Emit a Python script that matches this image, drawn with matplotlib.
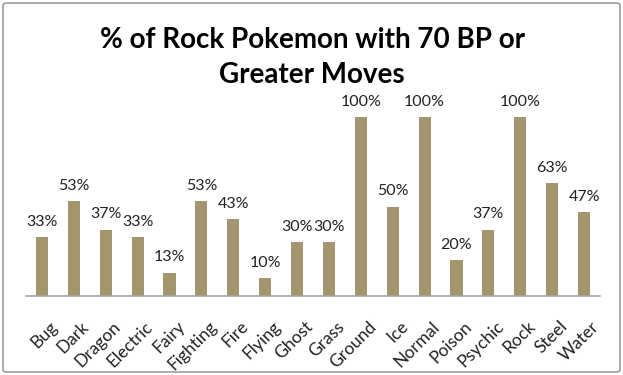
import matplotlib
matplotlib.use("Agg")
import matplotlib.pyplot as plt
from matplotlib.patches import FancyBboxPatch
from matplotlib.transforms import ScaledTranslation

categories = ["Bug", "Dark", "Dragon", "Electric", "Fairy", "Fighting", "Fire", "Flying",
              "Ghost", "Grass", "Ground", "Ice", "Normal", "Poison", "Psychic", "Rock",
              "Steel", "Water"]
values = [33, 53, 37, 33, 13, 53, 43, 10, 30, 30, 100, 50, 100, 20, 37, 100, 63, 47]
title_lines = ["% of Rock Pokemon with 70 BP or", "Greater Moves"]

plt.rcParams['font.family'] = ['Lato', 'DejaVu Sans']

fig = plt.figure(figsize=(6.23, 3.75), dpi=100)
ax = fig.add_axes([26/623, (375-296)/375, (600-26)/623, (296-117)/375])

x = list(range(len(categories)))
bars = ax.bar(x, values, width=0.38, color="#A3966A", zorder=2)
ax.set_xlim(-0.5, len(categories) - 0.5)
ax.set_ylim(0, 100)

for xi, v in zip(x, values):
    ax.annotate(f"{v}%", (xi, v), xytext=(0, 6), textcoords="offset points",
                ha="center", va="bottom", fontsize=11.5, color="#222222", clip_on=False)

for s in ["top", "right", "left"]:
    ax.spines[s].set_visible(False)
ax.spines["bottom"].set_color("#A6A6A6")
ax.spines["bottom"].set_linewidth(1.2)
ax.set_yticks([])
ax.set_xticks(x)
ax.set_xticklabels(categories, rotation=45, ha="right", rotation_mode="anchor",
                   fontsize=12.5, color="#222222")
ax.tick_params(axis="x", length=0, pad=16)
off = ScaledTranslation(5/72, 0, fig.dpi_scale_trans)
for lbl in ax.get_xticklabels():
    lbl.set_transform(lbl.get_transform() + off)

fig.text(312/623, 1 - 48/375, title_lines[0], ha="center", va="baseline", fontsize=20,
         fontweight="bold", color="#000000")
fig.text(312/623, 1 - 83/375, title_lines[1], ha="center", va="baseline", fontsize=20,
         fontweight="bold", color="#000000")

border = FancyBboxPatch((3/623, 3/375), 617/623, 369/375,
                        boxstyle="round,pad=0,rounding_size=0.006",
                        transform=fig.transFigure, fill=False,
                        edgecolor="#8C8C8C", linewidth=1.0)
fig.patches.append(border)

fig.savefig("out.png", dpi=100)
